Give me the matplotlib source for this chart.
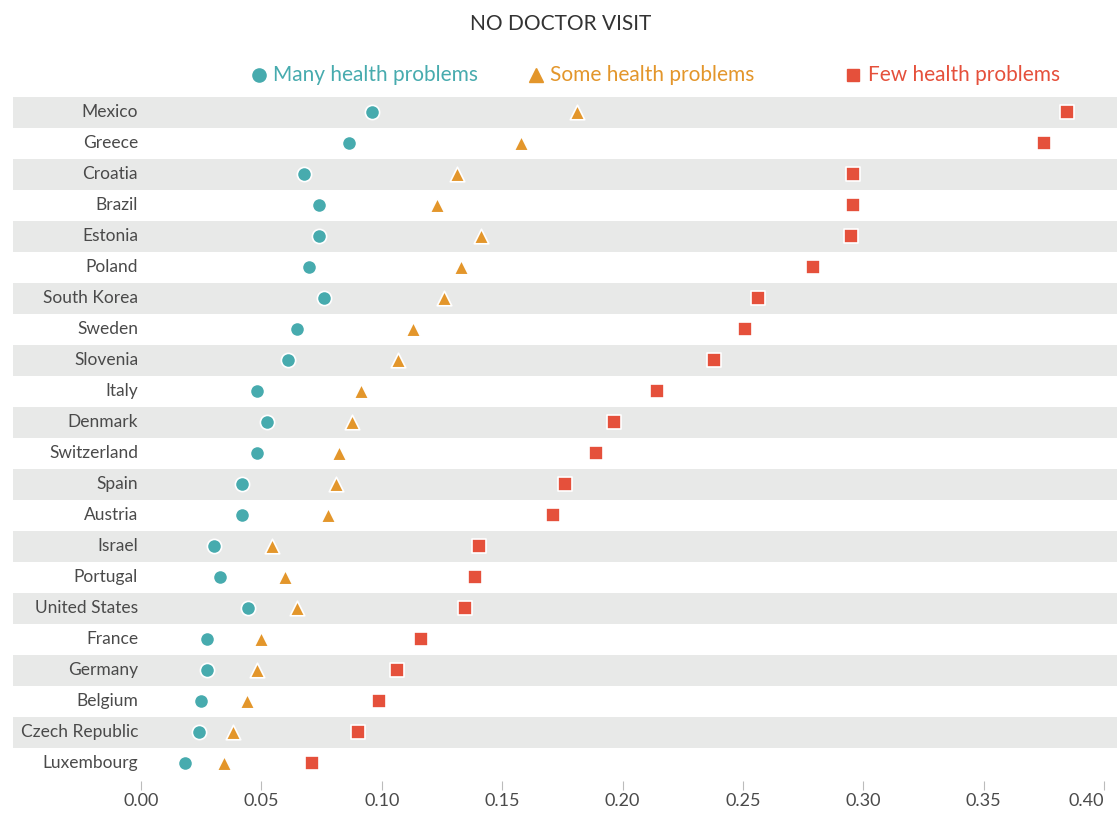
import matplotlib
matplotlib.use("Agg")
import matplotlib.pyplot as plt
import numpy as np

plt.rcParams['font.family'] = ['Lato', 'DejaVu Sans']

countries = ["Mexico", "Greece", "Croatia", "Brazil", "Estonia", "Poland",
             "South Korea", "Sweden", "Slovenia", "Italy", "Denmark",
             "Switzerland", "Spain", "Austria", "Israel", "Portugal",
             "United States", "France", "Germany", "Belgium",
             "Czech Republic", "Luxembourg"]
many = [0.0959, 0.0864, 0.0677, 0.0739, 0.0739, 0.0698, 0.0760, 0.0648,
        0.0610, 0.0482, 0.0523, 0.0482, 0.0419, 0.0419, 0.0303, 0.0328,
        0.0444, 0.0274, 0.0274, 0.0249, 0.0241, 0.0183]
some = [0.1811, 0.1578, 0.1312, 0.1229, 0.1412, 0.1329, 0.1258, 0.1130,
        0.1067, 0.0914, 0.0876, 0.0822, 0.0810, 0.0777, 0.0544, 0.0598,
        0.0648, 0.0498, 0.0482, 0.0440, 0.0382, 0.0345]
few = [0.3846, 0.3750, 0.2957, 0.2957, 0.2949, 0.2791, 0.2562, 0.2508,
       0.2380, 0.2143, 0.1964, 0.1890, 0.1761, 0.1711, 0.1404, 0.1387,
       0.1346, 0.1163, 0.1063, 0.0988, 0.0901, 0.0710]
ticks = [0.0, 0.05, 0.10, 0.15, 0.20, 0.25, 0.30, 0.35, 0.40]

teal = "#47abae"
orange = "#e3962b"
red = "#e5503b"
band = "#e8e9e8"

W, H = 1118, 815
fig = plt.figure(figsize=(W / 100, H / 100), dpi=100)
ax = fig.add_axes([13 / W, 1 - 781 / H, (1117 - 13) / W, (781 - 97) / H])

n = len(countries)
y = np.arange(n)
for i in range(0, n, 2):
    ax.axhspan(i - 0.5, i + 0.5, color=band, lw=0, zorder=0)

ax.scatter(many, y, marker='o', s=105, color=teal, edgecolor='white', linewidth=1.2, zorder=3)
ax.scatter(some, y, marker='^', s=110, color=orange, edgecolor='white', linewidth=1.2, zorder=3)
ax.scatter(few, y, marker='s', s=95, color=red, edgecolor='white', linewidth=1.2, zorder=3)

for i, c in enumerate(countries):
    ax.text(-0.0012, i, c, ha='right', va='center', fontsize=12.5, color='#4a4a4a')

# px 13 .. 1117, 0.00 sits at px 141, 2408 px per unit
ax.set_xlim((13 - 141) / 2408, (1117 - 141) / 2408)
ax.set_ylim(n - 1 + 0.5 + 2.5 / 31, -0.5)
ax.set_yticks([])
ax.set_xticks(ticks)
ax.set_xticklabels(["%.2f" % t for t in ticks])
ax.get_xticklabels()[-1].set_horizontalalignment('right')
ax.tick_params(axis='x', length=6.5, width=0.8, color='#bbbbbb', labelsize=13,
               labelcolor='#4a4a4a', pad=2)
for s in ax.spines.values():
    s.set_visible(False)

fig.text(561 / W, 1 - 24 / H, "NO DOCTOR VISIT", ha='center', va='center',
         fontsize=15, color='#333333')

ly = 1 - 75 / H
fig.text(273 / W, ly, "Many health problems", ha='left', va='center', fontsize=15, color=teal)
fig.text(550 / W, ly, "Some health problems", ha='left', va='center', fontsize=15, color=orange)
fig.text(868 / W, ly, "Few health problems", ha='left', va='center', fontsize=15, color=red)
fig.add_artist(plt.Line2D([259 / W], [ly], marker='o', markersize=9.5, color=teal, transform=fig.transFigure))
fig.add_artist(plt.Line2D([536 / W], [ly], marker='^', markersize=9.5, color=orange, transform=fig.transFigure))
fig.add_artist(plt.Line2D([853 / W], [ly], marker='s', markersize=8.5, color=red, transform=fig.transFigure))

fig.savefig("out.png", dpi=100)
